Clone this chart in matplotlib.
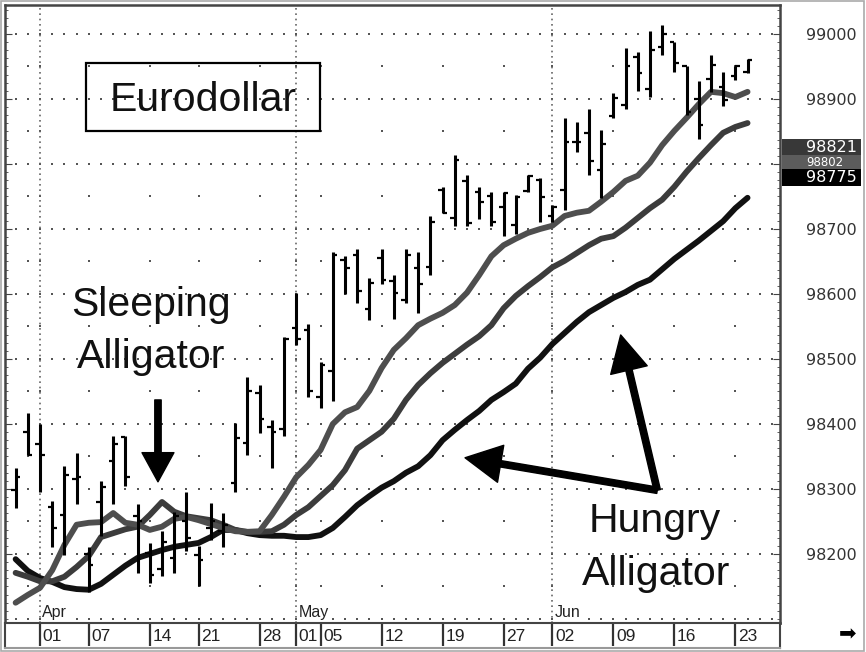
import numpy as np
import matplotlib
matplotlib.use("Agg")
import matplotlib.pyplot as plt
from matplotlib.patches import Rectangle
from matplotlib.ticker import MultipleLocator
from matplotlib.transforms import blended_transform_factory

plt.rcParams["font.family"] = ["Liberation Sans", "DejaVu Sans"]

# ---- data: daily bars, index 0 = Apr 01 ------------------------------------
BAR_IDX = np.arange(-2, 59)
OPEN = [98299, 98387, 98369, 98272, 98260, 98315, 98200, 98280, 98343, 98380,
        98258, 98201, 98177, 98194, 98250, 98199, 98240, 98235, 98309, 98371,
        98447, 98395, 98392, 98547, 98545, 98442, 98482, 98652, 98660, 98577,
        98655, 98620, 98590, 98640, 98641, 98760, 98717, 98774, 98757, 98750,
        98734, 98706, 98759, 98775, 98720, 98760, 98834, 98847, 98790, 98874,
        98890, 98965, 98915, 98980, 98987, 98950, 98900, 98930, 98918, 98935,
        98942]
HIGH = [98332, 98417, 98400, 98281, 98336, 98356, 98211, 98312, 98382, 98382,
        98277, 98217, 98235, 98265, 98296, 98212, 98278, 98263, 98401, 98472,
        98460, 98406, 98534, 98601, 98554, 98496, 98665, 98659, 98669, 98624,
        98669, 98629, 98669, 98665, 98720, 98765, 98814, 98783, 98765, 98757,
        98757, 98752, 98783, 98778, 98737, 98870, 98864, 98884, 98852, 98909,
        98978, 98973, 99004, 99014, 98988, 98951, 98928, 98968, 98942, 98951,
        98961]
LOW = [98270, 98353, 98296, 98211, 98199, 98277, 98142, 98227, 98277, 98305,
       98171, 98155, 98166, 98171, 98204, 98150, 98222, 98211, 98296, 98353,
       98386, 98332, 98381, 98522, 98441, 98424, 98436, 98600, 98586, 98560,
       98615, 98561, 98586, 98570, 98629, 98724, 98705, 98705, 98715, 98705,
       98689, 98693, 98757, 98710, 98711, 98729, 98819, 98783, 98747, 98870,
       98884, 98913, 98903, 98968, 98942, 98875, 98838, 98911, 98889, 98929,
       98940]
CLOSE = [98318, 98353, 98352, 98240, 98322, 98318, 98183, 98303, 98369, 98318,
         98250, 98168, 98218, 98258, 98224, 98190, 98250, 98245, 98378, 98451,
         98407, 98387, 98530, 98530, 98451, 98491, 98660, 98640, 98605, 98617,
         98621, 98601, 98660, 98615, 98710, 98725, 98806, 98709, 98742, 98711,
         98756, 98749, 98781, 98749, 98734, 98834, 98834, 98805, 98831, 98901,
         98950, 98940, 98975, 99000, 98956, 98880, 98860, 98952, 98898, 98950,
         98960]

# ---- alligator lines (already shifted forward, as plotted) -----------------
LIPS = [98125, 98137, 98148, 98175, 98214, 98245, 98248, 98249, 98263, 98248,
        98245, 98237, 98242, 98254, 98257, 98252, 98246, 98240, 98235, 98234,
        98235, 98260, 98288, 98318, 98337, 98360, 98400, 98418, 98426, 98451,
        98486, 98514, 98532, 98552, 98562, 98571, 98583, 98602, 98629, 98658,
        98675, 98685, 98694, 98700, 98705, 98720, 98725, 98728, 98742, 98757,
        98774, 98782, 98802, 98829, 98851, 98871, 98892, 98911, 98909, 98903,
        98911]
TEETH = [98171, 98165, 98158, 98158, 98165, 98180, 98197, 98226, 98232, 98238,
         98242, 98260, 98280, 98265, 98258, 98255, 98252, 98245, 98237, 98234,
         98234, 98235, 98245, 98260, 98272, 98289, 98306, 98329, 98362, 98375,
         98388, 98408, 98437, 98460, 98478, 98494, 98508, 98522, 98535, 98552,
         98578, 98597, 98612, 98626, 98641, 98651, 98663, 98675, 98685, 98689,
         98702, 98717, 98732, 98745, 98765, 98788, 98809, 98829, 98848, 98857,
         98863]
JAW = [98192, 98174, 98163, 98157, 98149, 98146, 98145, 98154, 98168, 98182,
       98194, 98200, 98206, 98211, 98214, 98217, 98226, 98237, 98237, 98232,
       98229, 98228, 98228, 98226, 98226, 98229, 98240, 98257, 98275, 98289,
       98302, 98312, 98325, 98335, 98352, 98375, 98391, 98406, 98420, 98437,
       98449, 98462, 98485, 98502, 98523, 98540, 98557, 98572, 98583, 98594,
       98603, 98614, 98622, 98638, 98654, 98668, 98682, 98697, 98712, 98732,
       98748]

TICK_IDX = [0, 4, 9, 13, 18, 21, 23, 28, 33, 38, 42, 47, 52, 57]
TICK_LABELS = ["01", "07", "14", "21", "28", "01", "05", "12", "19", "27",
               "02", "09", "16", "23"]
MONTH_IDX = [0, 21, 42]
MONTH_LABELS = ["Apr", "May", "Jun"]
PRICE_TICKS = [98200, 98300, 98400, 98500, 98600, 98700, 98800, 98900, 99000]
LAST_VALUES = [98802, 98821, 98775]
LAST_COLORS = ["#5c5c5c", "#383838", "#000000"]

XLIM = (-2.87, 60.66)
YLIM = (98093.8, 99044.6)

fig = plt.figure(figsize=(8.66, 6.52), dpi=100)
ax = fig.add_axes([5 / 866, 29 / 652, 775 / 866, 618 / 652])
axd = fig.add_axes([5 / 866, 4 / 652, 775 / 866, 25 / 652])

ax.set_xlim(*XLIM)
ax.set_ylim(*YLIM)

# dotted grid: rows of dots at every 100 (one per bar), sparse dots on weekly ticks
gx, gy = np.meshgrid(np.arange(-2, 61), np.arange(98100, 99001, 100))
ax.plot(gx.ravel(), gy.ravel(), ls="none", marker="s", ms=1.5, mew=0,
        color="#555555", zorder=1)
wx, wy = np.meshgrid([-1] + TICK_IDX, np.arange(98100, 99001, 50))
ax.plot(wx.ravel(), wy.ravel(), ls="none", marker="s", ms=1.5, mew=0,
        color="#555555", zorder=1)
for m in MONTH_IDX:
    ax.axvline(m, color="#666666", lw=1.2, ls=(0, (1, 2.2)), zorder=1)

# alligator lines
ax.plot(BAR_IDX, JAW, color="#111111", lw=4.2, solid_capstyle="round",
        solid_joinstyle="round", zorder=3)
ax.plot(BAR_IDX, TEETH, color="#3c3c3c", lw=4.2, solid_capstyle="round",
        solid_joinstyle="round", zorder=3)
ax.plot(BAR_IDX, LIPS, color="#4e4e4e", lw=4.2, solid_capstyle="round",
        solid_joinstyle="round", zorder=3)

# OHLC bars
ax.vlines(BAR_IDX, LOW, HIGH, color="black", lw=2.2, zorder=4)
ax.hlines(OPEN, BAR_IDX - 0.38, BAR_IDX, color="black", lw=1.6, zorder=4)
ax.hlines(CLOSE, BAR_IDX, BAR_IDX + 0.38, color="black", lw=1.6, zorder=4)

# month labels at the bottom of the plot
bx = blended_transform_factory(ax.transData, ax.transAxes)
for m, lab in zip(MONTH_IDX, MONTH_LABELS):
    ax.text(m + 0.2, 0.005, lab, transform=bx, ha="left", va="bottom",
            fontsize=11.5, color="#222222", zorder=5,
            bbox=dict(boxstyle="square,pad=0.05", fc="white", ec="none"))

# price axis on the right, ticks inward on both sides
ax.set_yticks(PRICE_TICKS)
ax.set_yticklabels([str(p) if p != 98800 else "" for p in PRICE_TICKS])
ax.yaxis.set_minor_locator(MultipleLocator(12.5))
ax.tick_params(axis="y", which="both", left=True, right=True, direction="in",
               labelleft=False, labelright=True, color="#444444")
ax.tick_params(axis="y", which="major", length=5, pad=18.7, labelsize=11.5,
               labelcolor="#333333")
ax.tick_params(axis="y", which="minor", length=2.5)
for lbl in ax.get_yticklabels():
    lbl.set_family("DejaVu Sans")
ax.tick_params(axis="x", bottom=False, labelbottom=False)
for s in ax.spines.values():
    s.set_color("#444444")
    s.set_linewidth(1.8)

# last-value boxes on the price axis (value, colour, centre offset, half height, size)
by = blended_transform_factory(ax.transAxes, ax.transData)
for val, col, off, half, fs, z in zip(LAST_VALUES, LAST_COLORS,
                                      [1, 5, 4], [10.5, 12.3, 12.8],
                                      [8.5, 11.5, 11.5], [10, 11, 11]):
    ax.add_patch(Rectangle((1.002, val + off - half), 0.103, 2 * half,
                           transform=by, fc=col, ec="none", clip_on=False,
                           zorder=z))
    ax.text(1.0335, val + off, str(val), transform=by, ha="left", va="center",
            color="white", fontsize=fs, family="DejaVu Sans", zorder=z + 0.5,
            clip_on=False)

# annotations
ax.add_patch(Rectangle((0.1045, 0.7961), 0.302, 0.110, transform=ax.transAxes,
                       fill=False, ec="black", lw=1.6, zorder=5))
ax.text(0.2555, 0.8285, "Eurodollar", transform=ax.transAxes, ha="center",
        va="baseline", fontsize=29.5, color="#111111", zorder=6)
ax.text(0.1884, 0.4968, "Sleeping", transform=ax.transAxes, ha="center",
        va="baseline", fontsize=29.5, color="#111111", zorder=6)
ax.text(0.1884, 0.4126, "Alligator", transform=ax.transAxes, ha="center",
        va="baseline", fontsize=29.5, color="#111111", zorder=6)
ax.text(0.8387, 0.1472, "Hungry", transform=ax.transAxes, ha="center",
        va="baseline", fontsize=29.5, color="#111111", zorder=6)
ax.text(0.8400, 0.0615, "Alligator", transform=ax.transAxes, ha="center",
        va="baseline", fontsize=29.5, color="#111111", zorder=6)

small = dict(arrowstyle="simple,head_length=21,head_width=23,tail_width=4.6",
             mutation_scale=1, color="black", shrinkA=0, shrinkB=0)
big = dict(arrowstyle="simple,head_length=26,head_width=27,tail_width=4.6",
           mutation_scale=1, color="black", shrinkA=0, shrinkB=0)
ax.annotate("", xy=(9.67, 98311), xytext=(9.67, 98437), arrowprops=small,
            zorder=6)
ax.annotate("", xy=(47.6, 98537), xytext=(50.6, 98298), arrowprops=big,
            zorder=6)
ax.annotate("", xy=(34.84, 98348), xytext=(50.6, 98298), arrowprops=big,
            zorder=6)

# date strip below the plot
axd.set_xlim(*XLIM)
axd.set_ylim(0, 1)
axd.vlines(TICK_IDX, 0.08, 1, color="#333333", lw=1.6)
for t, lab in zip(TICK_IDX, TICK_LABELS):
    axd.text(t + 0.22, 0.45, lab, ha="left", va="center", fontsize=12.5,
             color="#222222")
axd.set_xticks([])
axd.set_yticks([])
for name, s in axd.spines.items():
    s.set_color("#999999" if name == "bottom" else "#444444")
    s.set_linewidth(1.5)

fig.text(848 / 866, 1 - 634 / 652, "\u27a1", fontsize=15, family="DejaVu Sans",
         ha="center", va="center", color="black")
fig.patches.append(Rectangle((0.001, 0.001), 863 / 866, 0.997,
                             transform=fig.transFigure, fill=False,
                             ec="#aaaaaa", lw=1.2))

fig.savefig("out.png", dpi=100)
